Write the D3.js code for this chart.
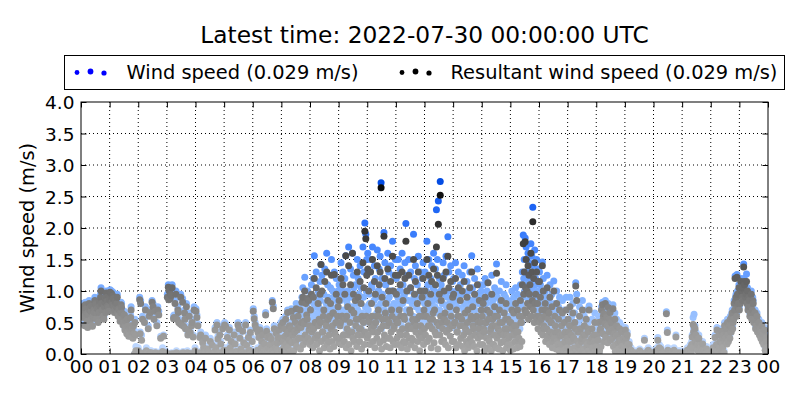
<!DOCTYPE html>
<html>
<head>
<meta charset="utf-8">
<script src="https://cdn.jsdelivr.net/npm/d3@7"></script>
<style>
  body { margin: 0; background: #fff; }
  svg { font-family: "DejaVu Sans", sans-serif; }
</style>
</head>
<body>
<svg id="chart" width="800" height="400"></svg>
<script>
// one reading per minute, one row per hour (00 .. 23), last one is 24:00
const windSpeed = [
  0.75,0.7,0.8,0.62,0.7,0.78,0.65,0.5,0.82,0.72,0.78,0.68,0.6,0.45,0.7,0.66,0.85,0.74,0.8,0.58,0.72,0.8,0.55,0.48,0.68,0.62,0.75,0.7,0.9,0.84,0.82,0.6,0.7,0.76,0.62,0.55,0.78,0.7,0.88,0.8,0.95,1.05,0.85,0.75,0.72,0.65,0.66,0.6,0.8,0.86,0.92,0.7,1.0,0.94,0.88,0.8,0.78,0.72,0.95,0.9,
  1.02,0.9,0.95,1.0,0.88,0.82,0.98,0.92,0.8,0.7,0.75,0.86,0.9,0.8,0.85,0.95,0.7,0.66,0.78,0.74,0.65,0.58,0.72,0.82,0.8,0.7,0.6,0.52,0.55,0.64,0.68,0.42,0.5,0.58,0.45,0.36,0.6,0.48,0.4,0.32,0.35,0.45,0.5,0.62,0.75,0.4,0.45,0.3,0.3,0.5,0.38,0.0,0.55,0.35,0.12,0.02,0.05,0.0,0.08,0.1,
  0.05,0,0.9,0.35,0.85,0,0.3,0.02,0.6,0,0.02,0,0.55,0.04,0.75,0,0.1,0,0,0.02,0.45,0,0.65,0.05,0.7,0,0.05,0,0.85,0.02,0.8,0,0.6,0,0.72,0.04,0,0,0.5,0,0.75,0.02,0.68,0,0.03,0,0.28,0,0,0.05,0.1,0,0.3,0,0.02,0,0.05,0.02,0,0,
  0.95,0,1.1,0.9,1.05,0,0.92,1.0,0.98,0.02,1.1,0,0,0.6,0.62,0,0.85,0,1.0,0.05,0.58,0,0.75,0.7,0.55,0,0.02,0.52,0.95,0,0.5,0,0.88,0.04,0.48,0,0.7,0.6,0.45,0,0.8,0,0.05,0.35,0.42,0,0.65,0,0.38,0.02,0,0.5,0.55,0,0.3,0,0.75,0,0.1,0.02,
  0.72,0,0.62,0.02,0.48,0,0.02,0,0.3,0.04,0.35,0,0,0,0.22,0,0.15,0.02,0.05,0,0.3,0,0,0,0.12,0.05,0.08,0,0,0,0.25,0,0.03,0,0.18,0.02,0,0,0.06,0,0.42,0,0.15,0,0.5,0.05,0.28,0,0.05,0,0.35,0,0.2,0.02,0,0,0.45,0,0.1,0,
  0.5,0,0.48,0.02,0.1,0,0.3,0,0,0.05,0.42,0,0.15,0,0.25,0.02,0.05,0,0,0,0.35,0,0.2,0,0.08,0.04,0,0,0.5,0,0.45,0,0.3,0.02,0.12,0,0,0,0.4,0,0.22,0,0.05,0,0.5,0,0.18,0.05,0,0,0.3,0,0.1,0.02,0.38,0,0.02,0,0.25,0,
  0.72,0,0.6,0.05,0.5,0,0.45,0.02,0.05,0.1,0.38,0,0.3,0.04,0.42,0,0.1,0.15,0.25,0,0.35,0.02,0,0.08,0.2,0,0.66,0,0.4,0.12,0.3,0.05,0.15,0,0.32,0.2,0,0.06,0.28,0,0.85,0.1,0.76,0,0.45,0.04,0.2,0.15,0.38,0,0.1,0.22,0.3,0.05,0.42,0,0.25,0.3,0.5,0.1,
  0.3,0.1,0.55,0.25,0.15,0.05,0.45,0.35,0.6,0.2,0.2,0.4,0.7,0.15,0.4,0.3,0.5,0.05,0.1,0.5,0.72,0.25,0.35,0.4,0.62,0.1,0.25,0.45,0.55,0.3,0.8,0.2,0.45,0.55,0.65,0.35,0.3,0.6,0.75,0.15,0.5,0.7,0.9,0.4,1.05,0.25,0.6,0.65,1.22,0.5,0.85,0.35,0.7,0.8,1.0,0.45,0.88,0.6,0.55,0.3,
  0.9,0.5,1.1,0.7,0.6,0.35,1.2,0.8,1.56,0.6,0.75,0.9,1.3,0.45,0.45,0.65,1.0,0.75,0.85,0.3,1.15,0.85,1.42,0.55,1.25,0.7,0.55,0.95,0.95,0.4,1.35,0.6,0.7,0.8,1.6,0.5,1.1,0.9,0.4,0.65,0.8,0.35,1.05,0.75,1.5,0.55,0.65,1.0,0.9,0.45,1.3,0.7,0.5,0.85,1.2,0.6,0.75,0.95,1.0,0.5,
  1.1,0.6,0.7,0.85,1.45,0.45,0.9,1.0,1.3,0.7,0.5,0.55,1.2,0.95,1.56,0.4,0.85,0.8,1.0,0.65,1.7,0.5,0.6,0.9,1.35,0.35,0.95,0.75,1.6,0.6,1.25,1.05,0.4,0.5,1.1,0.85,0.8,0.45,1.5,0.7,1.2,0.95,0.65,0.55,1.4,0.8,1.05,0.4,0.9,0.65,1.7,0.9,1.3,0.5,2.08,0.75,1.9,1.0,1.5,0.6,
  1.6,0.7,1.3,0.95,0.8,0.5,1.5,0.8,1.1,1.05,1.7,0.6,0.6,0.85,1.4,0.45,1.2,0.9,0.9,0.65,1.65,0.75,1.0,1.0,1.35,0.55,1.55,0.8,2.72,0.4,1.2,0.95,0.7,0.6,1.93,0.7,1.45,1.1,1.1,0.5,0.85,0.85,1.6,0.65,1.3,0.9,0.5,0.45,1.4,0.75,1.0,1.0,1.79,0.6,1.25,0.8,0.75,0.5,1.5,0.95,
  1.2,0.65,0.8,0.9,1.5,0.5,1.0,0.75,1.35,1.0,0.6,0.45,1.6,0.8,1.1,0.6,0.9,0.95,1.45,0.55,2.07,0.7,1.25,0.4,0.7,0.85,1.5,0.65,1.0,1.05,1.3,0.5,0.5,0.8,0.85,0.6,1.9,0.9,1.2,0.45,1.4,0.75,0.75,0.95,1.1,0.55,1.55,0.7,0.9,0.4,1.3,0.85,0.6,0.65,1.2,1.0,1.45,0.5,1.0,0.8,
  1.3,0.7,0.9,1.0,1.79,0.55,1.1,0.85,1.5,0.6,0.7,0.95,1.2,0.45,1.4,0.8,0.85,1.05,1.6,0.5,1.0,0.75,1.35,0.65,2.29,0.9,1.5,0.4,2.43,0.85,1.2,0.7,2.74,1.0,1.1,0.55,0.8,0.8,1.45,0.6,1.25,0.95,0.95,0.5,1.55,0.75,0.6,0.9,1.86,0.45,1.3,0.8,1.0,0.65,1.4,1.0,0.75,0.55,1.15,0.85,
  1.2,0.55,0.8,0.9,1.45,0.4,1.0,0.75,0.6,1.0,1.3,0.5,0.9,0.85,1.1,0.6,0.5,0.95,1.25,0.45,0.75,0.7,1.4,0.35,0.95,0.8,0.65,0.55,1.15,0.9,1.0,0.4,0.4,0.75,1.3,0.6,0.85,1.0,1.56,0.5,1.05,0.85,0.7,0.45,1.2,0.7,0.55,0.95,0.9,0.35,1.35,0.6,0.8,0.8,1.1,0.5,0.6,0.9,1.0,0.65,
  0.9,0.5,1.1,0.75,0.6,0.35,1.2,0.85,0.8,0.6,1.0,0.4,1.13,0.9,0.5,0.55,0.95,0.7,0.7,0.3,1.25,0.8,0.85,0.45,0.4,0.65,1.05,0.95,0.75,0.4,1.43,0.6,0.9,0.75,0.55,0.35,1.0,0.85,0.65,0.5,1.15,0.7,0.8,0.3,0.45,0.65,0.95,0.55,0.7,0.9,1.1,0.4,0.6,0.75,0.85,0.5,0.5,0.6,0.8,0.35,
  0.8,0.45,1.0,0.7,0.5,0.3,0.9,0.6,0.7,0.5,1.05,0.75,0.6,0.35,0.95,0.65,0.4,0.55,0.85,0.4,1.1,0.8,0.75,0.5,1.3,0.9,1.89,1.2,1.5,1.0,1.84,1.3,1.7,0.95,1.2,1.1,1.6,0.85,1.45,1.25,1.3,1.05,1.75,0.9,1.55,1.15,2.33,1.0,1.4,0.8,1.65,1.1,1.2,0.95,1.5,0.85,1.0,0.7,1.35,0.9,
  1.3,0.8,1.1,0.6,0.8,1.0,1.46,0.55,1.2,0.7,0.6,0.9,1.0,0.45,0.9,0.65,1.25,0.5,0.5,0.8,0.85,0.4,1.1,0.6,0.7,0.75,0.95,0.35,0.4,0.55,1.16,0.5,0.8,0.7,0.6,0.3,1.0,0.45,0.3,0.6,0.75,0.25,0.9,0.5,0.5,0.4,0.65,0.3,0.85,0.55,0.35,0.2,0.7,0.45,0.55,0.3,0.9,0.15,0.45,0.35,
  0.7,0.3,0.5,0.55,0.9,0.15,0.3,0.4,0.6,0.05,0.8,0.35,0.4,0.2,0.65,0.5,1.13,0.1,0.95,0.3,0.5,0,0.2,0.25,0.75,0.45,0.55,0.1,0.3,0.35,0.85,0.15,0.1,0.4,0.6,0.02,0.45,0.3,0.7,0.2,0.25,0.5,0.5,0.1,0.76,0.25,0.35,0,0.05,0.35,0.55,0.15,0.2,0.05,0.4,0.3,0.65,0.1,0.3,0.2,
  0.4,0.1,0.2,0.3,0.6,0,0.1,0.45,0.5,0.2,0.75,0.6,0.82,0.4,0.65,0.7,0.3,0.55,0.85,0.35,0.7,0.65,0.55,0.25,0.8,0.5,0.45,0.6,0.72,0.3,0.6,0.45,0.35,0.55,0.78,0.2,0.5,0.4,0.65,0.1,0.25,0.35,0.55,0.05,0.4,0.25,0.15,0.3,0.5,0,0.3,0.15,0.45,0.2,0.05,0.1,0.35,0,0.2,0.05,
  0.42,0.25,0.3,0.1,0.35,0.2,0.15,0.05,0.2,0,0.05,0.02,0.1,0,0,0.05,0.02,0,0,0,0.05,0,0,0.02,0,0,0.03,0,0,0.05,0.08,0,0,0,0,0.02,0.02,0,0,0,0.25,0,0.05,0,0,0.03,0,0,0.1,0,0,0,0.02,0,0,0.05,0,0,0.05,0,
  0,0.02,0.05,0,0,0,0.1,0.05,0.26,0,0,0.15,0.02,0,0.12,0,0,0.04,0,0,0.05,0,0,0.02,0,0,0.67,0,0.38,0.1,0,0,0.08,0,0,0.03,0,0,0.02,0,0,0.05,0.1,0,0,0,0.3,0,0,0.02,0.05,0,0,0,0,0.05,0.02,0,0,0,
  0,0,0.02,0,0,0.03,0.05,0,0,0,0.1,0,0,0.05,0,0,0.15,0.1,0.05,0.2,0.3,0.15,0.58,0.4,0.63,0.3,0.45,0.22,0.35,0.15,0.25,0.1,0.2,0.28,0.3,0.05,0.1,0.18,0.15,0,0.05,0.1,0.2,0,0,0.05,0.08,0,0,0,0.12,0.02,0,0,0.05,0,0,0,0.03,0,
  0,0.02,0.05,0,0.15,0.1,0,0.05,0.3,0,0.1,0.2,0.42,0.08,0.2,0,0.33,0.15,0.05,0.25,0.25,0.1,0.4,0.2,0.15,0.3,0.35,0.05,0.5,0.25,0.3,0.4,0.45,0.2,0.55,0.35,0.25,0.45,0.5,0.3,0.6,0.5,0.4,0.65,0.7,0.45,0.55,0.6,0.85,0.75,1.24,0.9,0.95,0.65,1.26,1.0,0.8,0.85,1.1,0.75,
  1.0,0.85,1.2,1.05,1.1,0.95,0.9,1.1,1.43,1.2,1.15,0.9,0.95,1.0,1.27,0.85,1.05,0.75,0.8,0.95,0.9,0.65,0.7,0.8,1.0,0.6,0.75,0.9,0.85,0.55,0.6,0.7,0.7,0.45,0.5,0.6,0.65,0.4,0.45,0.5,0.55,0.35,0.4,0.45,0.3,0.4,0.5,0.25,0.35,0.3,0.2,0.35,0.42,0.1,0.3,0.25,0.12,0.05,0.1,0.029
];

const resultantSpeed = [
  0.7,0.66,0.75,0.58,0.66,0.74,0.6,0.45,0.78,0.68,0.72,0.64,0.52,0.42,0.65,0.62,0.8,0.7,0.74,0.54,0.68,0.76,0.45,0.44,0.6,0.58,0.7,0.66,0.85,0.8,0.78,0.56,0.65,0.72,0.55,0.5,0.72,0.66,0.82,0.76,0.9,1.0,0.8,0.7,0.68,0.6,0.6,0.55,0.75,0.82,0.88,0.66,0.97,0.9,0.84,0.76,0.74,0.68,0.9,0.86,
  0.98,0.85,0.9,0.96,0.82,0.78,0.92,0.88,0.75,0.66,0.7,0.82,0.85,0.75,0.8,0.9,0.65,0.6,0.72,0.7,0.6,0.52,0.66,0.78,0.74,0.65,0.55,0.46,0.5,0.6,0.62,0.38,0.45,0.52,0.4,0.32,0.55,0.44,0.35,0.28,0.3,0.4,0.45,0.58,0.7,0.35,0.4,0.26,0.25,0.45,0.32,0.0,0.5,0.3,0.05,0.0,0.02,0.0,0.04,0.05,
  0.02,0,0.86,0.32,0.8,0,0.22,0,0.55,0,0,0,0.5,0.02,0.7,0,0.05,0,0,0,0.4,0,0.6,0.02,0.66,0,0.02,0,0.82,0,0.75,0,0.55,0,0.68,0.02,0,0,0.45,0,0.7,0,0.62,0,0,0,0.25,0,0,0.02,0.04,0,0.28,0,0,0,0.02,0,0,0,
  0.9,0,1.06,0.86,1.0,0,0.88,0.95,0.93,0,1.05,0,0,0.56,0.58,0,0.8,0,0.95,0.02,0.55,0,0.7,0.66,0.5,0,0,0.48,0.9,0,0.46,0,0.82,0.02,0.44,0,0.65,0.55,0.4,0,0.75,0,0.02,0.3,0.38,0,0.6,0,0.34,0,0,0.45,0.5,0,0.27,0,0.7,0,0.05,0,
  0.68,0,0.58,0,0.45,0,0,0,0.26,0.02,0.3,0,0,0,0.18,0,0.1,0,0.02,0,0.25,0,0,0,0.08,0.02,0.04,0,0,0,0.2,0,0,0,0.14,0,0,0,0.03,0,0.38,0,0.1,0,0.46,0.02,0.24,0,0.02,0,0.3,0,0.16,0,0,0,0.4,0,0.06,0,
  0.46,0,0.44,0,0.06,0,0.26,0,0,0.02,0.38,0,0.1,0,0.2,0,0.02,0,0,0,0.3,0,0.16,0,0.04,0.02,0,0,0.46,0,0.4,0,0.25,0,0.08,0,0,0,0.36,0,0.18,0,0.02,0,0.46,0,0.14,0.02,0,0,0.26,0,0.06,0,0.34,0,0,0,0.2,0,
  0.68,0,0.56,0.02,0.46,0,0.4,0,0.02,0.06,0.34,0,0.26,0.02,0.38,0,0.06,0.1,0.2,0,0.3,0,0,0.04,0.16,0,0.62,0,0.36,0.08,0.26,0.02,0.1,0,0.28,0.15,0,0.03,0.24,0,0.82,0.06,0.72,0,0.4,0.02,0.16,0.1,0.33,0,0.06,0.18,0.26,0.02,0.38,0,0.2,0.25,0.45,0.06,
  0.25,0.05,0.5,0.2,0.1,0.02,0.4,0.28,0.55,0.15,0.15,0.32,0.66,0.1,0.35,0.22,0.45,0.02,0.05,0.4,0.68,0.18,0.3,0.3,0.58,0.05,0.2,0.35,0.5,0.2,0.72,0.12,0.38,0.42,0.6,0.25,0.25,0.45,0.7,0.08,0.42,0.5,0.82,0.25,0.9,0.15,0.52,0.48,1.0,0.3,0.8,0.2,0.62,0.55,0.88,0.25,0.85,0.38,0.45,0.15,
  0.7,0.2,0.95,0.35,0.4,0.1,0.9,0.4,1.2,0.25,0.5,0.5,1.05,0.15,0.25,0.3,0.8,0.45,0.55,0.05,0.95,0.5,1.42,0.2,1.0,0.35,0.35,0.6,0.7,0.1,1.15,0.25,0.5,0.45,1.3,0.15,0.85,0.55,0.2,0.3,0.6,0.08,0.8,0.4,1.25,0.2,0.45,0.65,0.65,0.12,1.26,0.35,0.3,0.5,0.95,0.25,0.5,0.6,0.75,0.18,
  0.85,0.25,0.45,0.5,1.2,0.15,0.6,0.6,1.1,0.3,0.3,0.2,0.95,0.55,1.56,0.1,0.6,0.4,0.75,0.3,1.4,0.15,0.35,0.5,1.1,0.05,0.7,0.35,1.6,0.25,0.95,0.65,0.2,0.2,0.85,0.45,0.55,0.12,1.3,0.3,0.9,0.55,0.4,0.2,1.15,0.4,0.8,0.08,0.6,0.3,1.45,0.5,1.05,0.15,1.95,0.35,1.83,0.6,1.25,0.25,
  1.35,0.3,1.0,0.55,0.5,0.15,1.3,0.4,0.8,0.6,1.5,0.2,0.35,0.45,1.15,0.1,0.95,0.5,0.6,0.25,1.4,0.35,0.7,0.6,1.1,0.18,1.3,0.4,2.64,0.08,0.9,0.55,0.45,0.22,1.87,0.3,1.2,0.65,0.8,0.12,0.55,0.45,1.35,0.25,1.0,0.5,0.25,0.1,1.15,0.35,0.7,0.6,1.55,0.2,1.0,0.4,0.45,0.15,1.25,0.55,
  0.95,0.25,0.5,0.5,1.25,0.15,0.7,0.35,1.1,0.6,0.3,0.1,1.3,0.4,0.85,0.2,0.6,0.55,1.2,0.18,1.79,0.3,1.0,0.08,0.4,0.45,1.25,0.25,0.7,0.65,1.05,0.15,0.25,0.4,0.55,0.22,1.5,0.5,0.95,0.1,1.15,0.35,0.45,0.55,0.8,0.2,1.3,0.3,0.6,0.05,1.0,0.45,0.35,0.25,0.9,0.6,1.2,0.15,0.7,0.4,
  1.0,0.3,0.6,0.6,1.5,0.2,0.8,0.45,1.25,0.25,0.45,0.55,0.95,0.1,1.15,0.4,0.55,0.65,1.35,0.18,0.7,0.35,1.1,0.3,1.7,0.5,1.25,0.08,2.06,0.45,0.95,0.3,2.52,0.6,0.85,0.2,0.5,0.4,1.2,0.22,1.0,0.55,0.65,0.15,1.3,0.35,0.35,0.5,1.55,0.1,1.05,0.4,0.75,0.28,1.15,0.6,0.45,0.2,0.9,0.45,
  0.95,0.2,0.5,0.5,1.2,0.1,0.7,0.35,0.35,0.6,1.05,0.15,0.6,0.45,0.85,0.25,0.25,0.55,1.0,0.12,0.45,0.3,1.15,0.05,0.65,0.4,0.35,0.2,0.9,0.5,0.7,0.1,0.15,0.35,1.05,0.25,0.55,0.6,1.3,0.18,0.75,0.45,0.4,0.12,0.95,0.3,0.3,0.55,0.6,0.05,1.1,0.25,0.5,0.4,0.85,0.15,0.3,0.5,0.7,0.28,
  0.6,0.15,0.8,0.4,0.35,0.05,0.9,0.5,0.5,0.25,0.7,0.1,1.13,0.55,0.25,0.2,0.65,0.35,0.4,0.05,0.95,0.45,0.55,0.15,0.15,0.3,0.75,0.6,0.45,0.1,1.28,0.25,0.6,0.4,0.3,0.08,0.7,0.5,0.35,0.18,0.85,0.35,0.5,0.05,0.2,0.3,0.65,0.2,0.4,0.55,0.8,0.1,0.3,0.4,0.55,0.15,0.25,0.28,0.5,0.06,
  0.5,0.15,0.7,0.4,0.3,0.08,0.65,0.3,0.45,0.2,0.8,0.45,0.35,0.1,0.7,0.35,0.2,0.25,0.6,0.12,0.85,0.5,0.5,0.2,1.1,0.6,1.75,0.95,1.3,0.7,1.78,1.05,1.5,0.65,1.0,0.8,1.4,0.55,1.25,0.95,1.1,0.75,1.6,0.6,1.3,0.85,2.1,0.7,1.2,0.5,1.45,0.8,0.95,0.6,1.3,0.55,0.8,0.4,1.15,0.6,
  1.15,0.5,0.9,0.35,0.55,0.7,1.4,0.3,1.0,0.45,0.4,0.6,0.8,0.2,0.7,0.4,1.05,0.25,0.3,0.55,0.65,0.15,0.9,0.35,0.5,0.5,0.75,0.1,0.2,0.3,1.0,0.25,0.6,0.45,0.35,0.08,0.8,0.2,0.15,0.35,0.55,0.05,0.7,0.28,0.3,0.15,0.45,0.06,0.65,0.3,0.15,0.02,0.5,0.2,0.35,0.08,0.7,0.0,0.25,0.1,
  0.55,0.2,0.35,0.45,0.75,0.08,0.2,0.3,0.45,0,0.65,0.25,0.25,0.1,0.5,0.4,1.08,0.04,0.85,0.2,0.35,0,0.1,0.15,0.6,0.35,0.4,0.04,0.2,0.25,0.7,0.08,0.05,0.3,0.45,0,0.3,0.2,0.55,0.12,0.15,0.4,0.35,0.05,0.7,0.15,0.2,0,0,0.25,0.4,0.08,0.1,0,0.3,0.2,0.5,0.04,0.2,0.12,
  0.3,0.04,0.1,0.22,0.5,0,0.05,0.38,0.4,0.12,0.7,0.52,0.78,0.32,0.6,0.64,0.2,0.48,0.8,0.26,0.62,0.58,0.45,0.18,0.74,0.42,0.35,0.55,0.66,0.22,0.5,0.38,0.25,0.5,0.72,0.12,0.4,0.32,0.55,0.04,0.15,0.28,0.45,0,0.3,0.18,0.08,0.22,0.4,0,0.2,0.08,0.35,0.12,0,0.04,0.25,0,0.1,0,
  0.38,0.2,0.25,0.06,0.3,0.15,0.1,0.02,0.15,0,0.02,0,0.06,0,0,0.02,0,0,0,0,0.02,0,0,0,0,0,0,0,0,0.02,0.05,0,0,0,0,0,0,0,0,0,0.22,0,0.02,0,0,0,0,0,0.06,0,0,0,0,0,0,0.02,0,0,0.02,0,
  0,0,0.02,0,0,0,0.06,0.02,0.22,0,0,0.1,0,0,0.08,0,0,0,0,0,0.02,0,0,0,0,0,0.64,0,0.34,0.06,0,0,0.04,0,0,0,0,0,0,0,0,0.02,0.06,0,0,0,0.27,0,0,0,0.02,0,0,0,0,0.02,0,0,0,0,
  0,0,0,0,0,0,0.02,0,0,0,0.06,0,0,0.02,0,0,0.1,0.06,0.02,0.15,0.27,0.1,0.47,0.35,0.44,0.25,0.4,0.18,0.3,0.1,0.2,0.06,0.15,0.24,0.25,0.02,0.06,0.14,0.1,0,0.02,0.06,0.16,0,0,0.02,0.04,0,0,0,0.08,0,0,0,0.02,0,0,0,0,0,
  0,0,0.02,0,0.1,0.06,0,0.02,0.26,0,0.06,0.15,0.38,0.04,0.15,0,0.3,0.1,0.02,0.2,0.2,0.06,0.36,0.16,0.1,0.25,0.3,0.02,0.45,0.2,0.25,0.35,0.4,0.16,0.5,0.3,0.2,0.4,0.45,0.25,0.55,0.45,0.35,0.6,0.65,0.4,0.5,0.55,0.8,0.7,1.2,0.85,0.9,0.6,1.22,0.95,0.75,0.8,1.05,0.7,
  0.95,0.8,1.15,1.0,1.05,0.9,0.85,1.05,1.38,1.15,1.1,0.85,0.9,0.95,1.15,0.8,1.0,0.7,0.75,0.9,0.85,0.6,0.65,0.75,0.95,0.55,0.7,0.85,0.8,0.5,0.55,0.65,0.65,0.4,0.45,0.55,0.6,0.35,0.4,0.45,0.5,0.3,0.35,0.4,0.25,0.35,0.45,0.2,0.3,0.25,0.15,0.3,0.38,0.06,0.25,0.2,0.1,0.02,0.08,0.029
];

const stepMinutes = 1;
const hourTickLabels = ["00","01","02","03","04","05","06","07","08","09","10","11",
                        "12","13","14","15","16","17","18","19","20","21","22","23","00"];
const yTickValues = [0, 0.5, 1, 1.5, 2, 2.5, 3, 3.5, 4];
const titleText = "Latest time: 2022-07-30 00:00:00 UTC";
const legendLabels = ["Wind speed (0.029 m/s)", "Resultant wind speed (0.029 m/s)"];

let margin = {top: 102, right: 32, bottom: 46, left: 81};
let width = 800 - margin.left - margin.right;
let height = 400 - margin.top - margin.bottom;

let svg = d3.select("#chart");

// scales
let x = d3.scaleLinear().domain([0, 24]).range([0, width]);
let y = d3.scaleLinear().domain([0, 4]).range([height, 0]);

// colour by value, like a matplotlib colormap
let blueColor = d3.scaleLinear()
    .domain([0, 0.8, 1.6, 2.3, 2.8])
    .range(["#c4dbff", "#8ab8ff", "#4c8cff", "#1f66f5", "#0048e0"])
    .clamp(true);
let greyColor = d3.scaleLinear()
    .domain([0, 0.6, 1.2, 1.9, 2.6])
    .range(["#a8a8a8", "#8e8e8e", "#5e5e5e", "#383838", "#0c0c0c"])
    .clamp(true);

let g = svg.append("g")
    .attr("transform", "translate(" + margin.left + "," + margin.top + ")");

g.append("clipPath").attr("id", "plotClip")
  .append("rect").attr("width", width).attr("height", height);

// dotted grid
g.append("g").selectAll("line").data(d3.range(1, 24))
  .enter().append("line")
    .attr("x1", d => x(d)).attr("x2", d => x(d))
    .attr("y1", 0).attr("y2", height)
    .attr("stroke", "#000").attr("stroke-width", 1)
    .attr("stroke-dasharray", "1,3");
g.append("g").selectAll("line").data(yTickValues.slice(1, -1))
  .enter().append("line")
    .attr("x1", 0).attr("x2", width)
    .attr("y1", d => y(d)).attr("y2", d => y(d))
    .attr("stroke", "#000").attr("stroke-width", 1)
    .attr("stroke-dasharray", "1,3");

function timeOf(i) { return (i + 1) * stepMinutes / 60; }

let points = g.append("g").attr("clip-path", "url(#plotClip)");

// wind speed first, resultant drawn over it
points.append("g").selectAll("circle").data(windSpeed)
  .enter().append("circle")
    .attr("cx", (d, i) => x(timeOf(i)))
    .attr("cy", d => y(d))
    .attr("r", 3.5)
    .attr("fill", d => blueColor(d));

points.append("g").selectAll("circle").data(resultantSpeed)
  .enter().append("circle")
    .attr("cx", (d, i) => x(timeOf(i)))
    .attr("cy", d => y(d))
    .attr("r", 3.5)
    .attr("fill", d => greyColor(d));

// axes, ticks pointing inward on all four sides
let fmtY = d3.format(".1f");
let xBottom = g.append("g")
    .attr("transform", `translate(0, ${height})`)
    .call(d3.axisBottom(x).tickValues(d3.range(0, 25))
        .tickFormat((d, i) => hourTickLabels[i]).tickSizeInner(-5.5).tickSizeOuter(0));
let xTop = g.append("g")
    .call(d3.axisTop(x).tickValues(d3.range(0, 25)).tickFormat("").tickSizeInner(-5.5).tickSizeOuter(0));
let yLeft = g.append("g")
    .call(d3.axisLeft(y).tickValues(yTickValues).tickFormat(fmtY).tickSizeInner(-5.5).tickSizeOuter(0).tickPadding(6.5));
let yRight = g.append("g")
    .attr("transform", `translate(${width}, 0)`)
    .call(d3.axisRight(y).tickValues(yTickValues).tickFormat("").tickSizeInner(-5.5).tickSizeOuter(0));

[xBottom, xTop, yLeft, yRight].forEach(a => {
    a.select(".domain").remove();
    a.selectAll("line").attr("stroke", "#000");
    a.selectAll("text")
      .attr("fill", "#000")
      .style("font-family", "DejaVu Sans")
      .style("font-size", "18.5px");
});
xBottom.selectAll("text").attr("y", 19).attr("dy", 0);
yLeft.selectAll("text").attr("dy", "0.36em");

// frame
g.append("rect")
    .attr("width", width).attr("height", height)
    .attr("fill", "none").attr("stroke", "#000").attr("stroke-width", 1);

// y label
svg.append("text")
    .attr("transform", "translate(33.5," + (margin.top + height / 2) + ") rotate(-90)")
    .attr("text-anchor", "middle")
    .style("font-size", "19.4px")
    .text("Wind speed (m/s)");

// title
svg.append("text")
    .attr("x", margin.left + width / 2)
    .attr("y", 43)
    .attr("text-anchor", "middle")
    .style("font-size", "23.3px")
    .text(titleText);

// legend
let legend = svg.append("g");
legend.append("rect")
    .attr("x", 64.5).attr("y", 55.5).attr("width", 720).attr("height", 34)
    .attr("fill", "#fff").attr("stroke", "#000").attr("stroke-width", 1);

let legendDots = [{dx: 0, dy: 0.5, r: 2.4}, {dx: 13.5, dy: -0.5, r: 2.9}, {dx: 27, dy: 1, r: 2.6}];
let legendItems = [
    {x: 77, color: "#0000ff", label: legendLabels[0], textX: 126.5},
    {x: 402, color: "#000000", label: legendLabels[1], textX: 450.5}
];
legendItems.forEach(item => {
    legend.append("g").selectAll("circle").data(legendDots)
      .enter().append("circle")
        .attr("cx", d => item.x + d.dx)
        .attr("cy", d => 72 + d.dy)
        .attr("r", d => d.r)
        .attr("fill", item.color);
    legend.append("text")
        .attr("x", item.textX).attr("y", 78.5)
        .style("font-size", "19.4px")
        .text(item.label);
});
</script>
</body>
</html>
